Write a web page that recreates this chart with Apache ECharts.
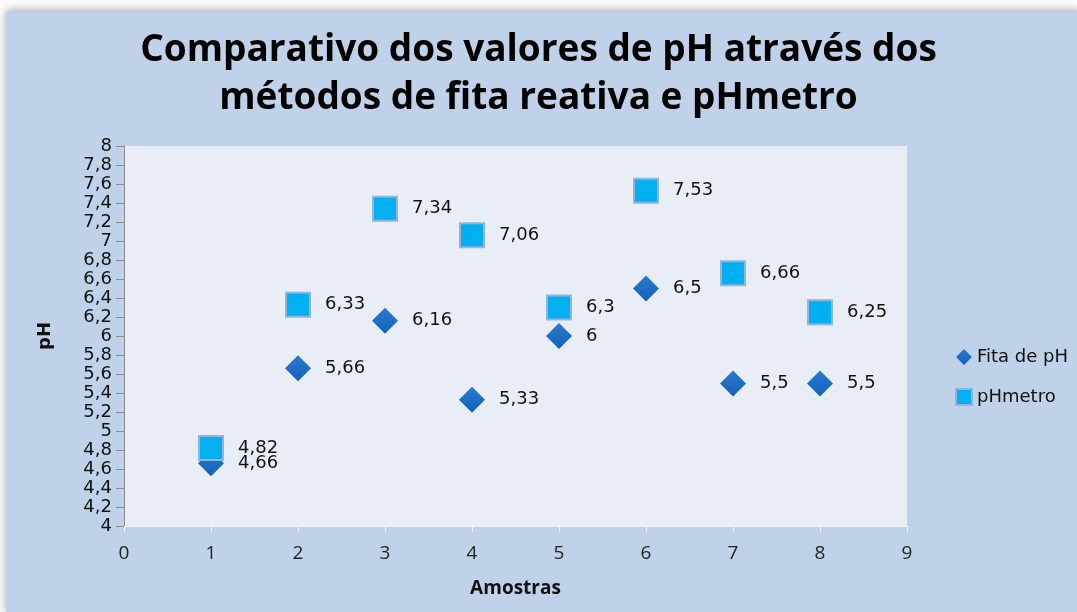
<!DOCTYPE html>
<html><head><meta charset="utf-8">
<script src="https://cdn.jsdelivr.net/npm/echarts@6/dist/echarts.min.js"></script>
<style>html,body{margin:0;padding:0;background:#fff}#c{width:1077px;height:612px}</style>
</head><body><div id="c"></div>
<script>
const samples = [1,2,3,4,5,6,7,8];
const fita = [4.66,5.66,6.16,5.33,6,6.5,5.5,5.5];
const phmetro = [4.82,6.33,7.34,7.06,6.3,7.53,6.66,6.25];
const seriesNames = ['Fita de pH','pHmetro'];
const titleLines = ['Comparativo dos valores de pH através dos','métodos de fita reativa e pHmetro'];

const fmt = v => String(v).replace('.', ',');
const chart = echarts.init(document.getElementById('c'));
const lblFont = 'DejaVu Sans, Verdana, sans-serif';
const narrow = '"Liberation Sans Narrow", "Open Sans", sans-serif';
chart.setOption({
  backgroundColor:'#ffffff',
  animation:false,
  graphic:[{type:'rect',z:-10,shape:{x:6,y:12,width:1075,height:604},
    style:{fill:'#c0d2e9',shadowBlur:10,shadowColor:'rgba(0,0,0,0.35)',shadowOffsetY:-2}}],
  title:{text:titleLines.join('\n'),left:'center',top:21,
    textStyle:{fontFamily:narrow,fontWeight:'bold',fontSize:37,lineHeight:48,color:'#000'}},
  grid:{left:124,right:170,top:146,bottom:86,show:true,backgroundColor:'#e9eef6',borderWidth:0},
  legend:{orient:'vertical',left:950,top:343,itemGap:22,itemWidth:16,itemHeight:16,
    textStyle:{fontFamily:lblFont,fontSize:18,color:'#111'},
    data:[{name:seriesNames[0],icon:'diamond'},{name:seriesNames[1],icon:'rect'}]},
  xAxis:{type:'value',min:0,max:9,interval:1,name:'Amostras',nameLocation:'middle',nameGap:53,
    nameTextStyle:{fontFamily:narrow,fontWeight:'bold',fontSize:19,color:'#111'},
    axisLine:{show:true,lineStyle:{color:'#f3f5f9',width:1}},
    axisTick:{show:true,length:6,lineStyle:{color:'#f3f5f9'}},
    splitLine:{show:false},
    axisLabel:{fontFamily:narrow,fontSize:19,color:'#222',margin:18}},
  yAxis:{type:'value',min:4,max:8,interval:0.2,name:'pH',nameLocation:'middle',nameGap:70,nameRotate:90,
    nameTextStyle:{fontFamily:lblFont,fontWeight:'bold',fontSize:18,color:'#111'},
    axisLine:{show:true,lineStyle:{color:'#8c8c8c'}},
    axisTick:{show:true,length:8,lineStyle:{color:'#8c8c8c'}},
    splitLine:{show:false},
    axisLabel:{fontFamily:lblFont,fontSize:18,color:'#111',margin:12,lineHeight:15,
      formatter:v=>fmt(Math.round(v*10)/10)}},
  series:[
    {name:seriesNames[0],type:'scatter',symbol:'diamond',symbolSize:26,z:3,
     itemStyle:{opacity:1,color:new echarts.graphic.LinearGradient(0,0,0,1,[{offset:0,color:'#2a7ad0'},{offset:1,color:'#1262ba'}])},
     label:{show:true,position:'right',distance:14,fontFamily:lblFont,fontSize:18,color:'#111',
       formatter:p=>fmt(p.value[1])},
     data:samples.map((s,i)=>[s,fita[i]])},
    {name:seriesNames[1],type:'scatter',symbol:'rect',symbolSize:24,z:4,
     itemStyle:{opacity:1,color:'#00b0f0',borderColor:'#93b3da',borderWidth:2},
     label:{show:true,position:'right',distance:14,fontFamily:lblFont,fontSize:18,color:'#111',
       formatter:p=>fmt(p.value[1])},
     data:samples.map((s,i)=>[s,phmetro[i]])}
  ]
});
</script></body></html>
